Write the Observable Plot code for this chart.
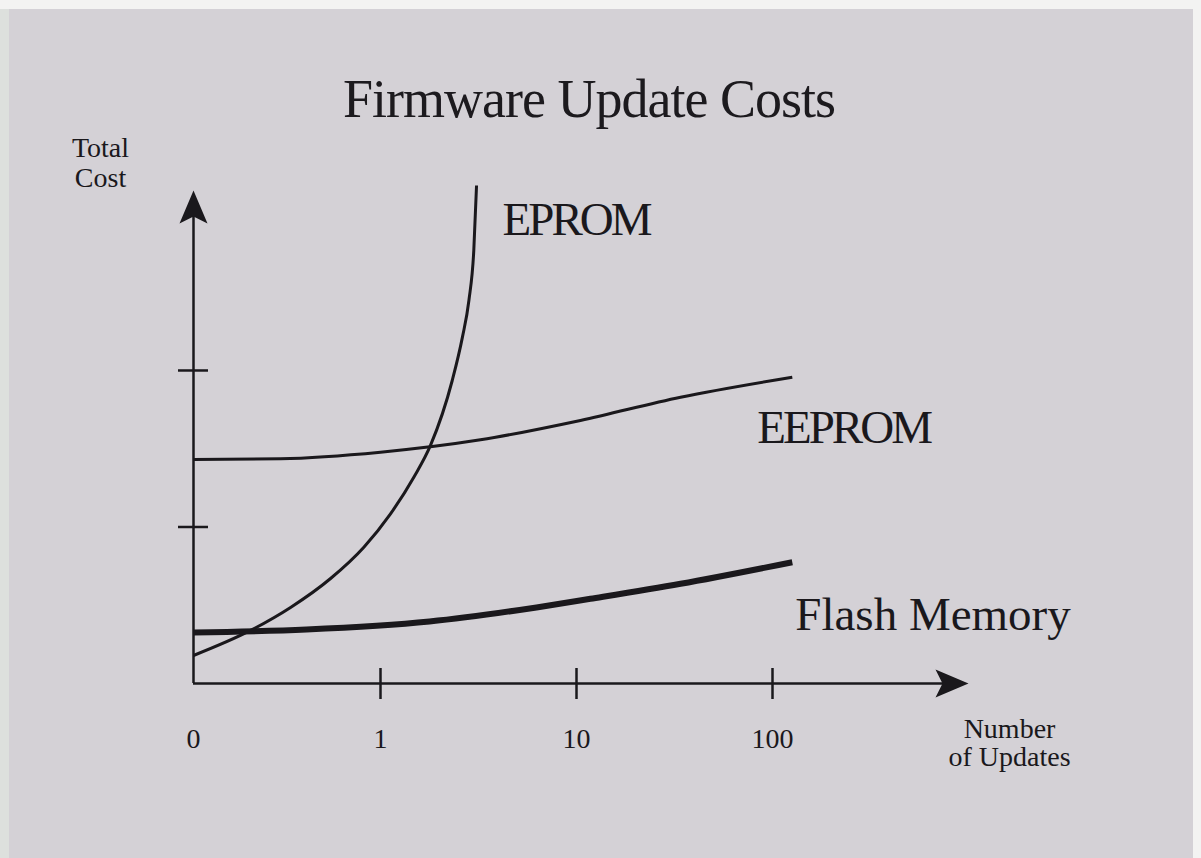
<!DOCTYPE html>
<html><head><meta charset="utf-8">
<script src="https://cdn.jsdelivr.net/npm/d3@7"></script>
<script src="https://cdn.jsdelivr.net/npm/@observablehq/plot@0.6"></script>
<style>
html,body{margin:0;padding:0;background:#f3f3f2;width:1201px;height:858px;overflow:hidden}
#strip{position:absolute;left:0;top:9px;width:9px;height:849px;background:#dde0dd}
#panel{position:absolute;left:9px;top:9px;width:1184px;height:849px;background:#d4d1d6}
#title{position:absolute;left:0;top:63px;width:1160px;text-align:center;font-family:"Liberation Serif","DejaVu Serif",serif;font-size:54px;line-height:1;letter-spacing:-1px;color:#1c1a1e;z-index:2}
#chart{position:absolute;left:0;top:0}
</style></head><body>
<div id="strip"></div>
<div id="panel"><div id="title">Firmware Update Costs</div><div id="chart"></div></div>
<script>
// ---- data (x in decade units of "Number of Updates": 0→0, 1→1, 10→2, 100→3) ----
const seriesNames = ["EPROM", "EEPROM", "Flash Memory"];
const epromX = [0, 0.305, 0.519, 0.733, 0.911, 1.051, 1.170, 1.255, 1.366, 1.418, 1.451, 1.476, 1.490];
const epromY = [0.179, 0.339, 0.486, 0.671, 0.871, 1.084, 1.318, 1.521, 1.936, 2.213, 2.447, 2.767, 3.182];
const eepromX = [0, 0.465, 1.0, 1.510, 2.020, 2.531, 3.101];
const eepromY = [1.431, 1.436, 1.478, 1.557, 1.681, 1.829, 1.957];
const flashX = [0, 0.604, 1.25, 1.796, 2.071, 2.531, 3.101];
const flashY = [0.326, 0.345, 0.396, 0.486, 0.541, 0.637, 0.775];
const xTickVals = [0, 1, 2, 3];
const xTickLabels = ["0", "1", "10", "100"];
const yTickVals = [1, 2];
const xMax = 4;      // x-axis arrow tip
const yMax = 3.15;   // y-axis arrow tip
const yAxisLabel = "Total\nCost";
const xAxisLabel = "Number\nof Updates";

// ---- build tables ----
const seriesX = [epromX, eepromX, flashX];
const seriesY = [epromY, eepromY, flashY];
const points = seriesNames.flatMap((name, s) =>
  seriesX[s].map((x, i) => ({series: name, x, y: seriesY[s][i]})));

// ---- styles ----
const ink = "#1a181c";
const font = "'Liberation Serif','DejaVu Serif',serif";
const lineStyle = {
  "EPROM": {strokeWidth: 3, dx: 26, dy: 50, spacing: "-3px"},
  "EEPROM": {strokeWidth: 3.1, dx: -35, dy: 66, spacing: "-3px"},
  "Flash Memory": {strokeWidth: 6, dx: 3, dy: 68, spacing: "0px"}
};

const arrowHead = {
  draw(ctx) {
    ctx.moveTo(0, 0);
    ctx.lineTo(14, 33);
    ctx.lineTo(0, 26);
    ctx.lineTo(-14, 33);
    ctx.closePath();
  }
};

const marks = [
  // axes
  Plot.ruleY([0], {stroke: ink, strokeWidth: 2.5, insetRight: 12}),
  Plot.ruleX([0], {stroke: ink, strokeWidth: 2.5, insetTop: 12}),
  Plot.dot([{x: 0, y: yMax}], {x: "x", y: "y", symbol: arrowHead, fill: ink, stroke: "none", r: 1}),
  Plot.dot([{x: xMax, y: 0}], {x: "x", y: "y", symbol: arrowHead, fill: ink, stroke: "none", r: 1, rotate: 90}),
  // ticks crossing the axes
  Plot.ruleX(xTickVals.filter(d => d > 0), {x: d => d, y1: d => 0, y2: d => 0, insetTop: -15, insetBottom: -16, stroke: ink, strokeWidth: 2.5}),
  Plot.ruleY(yTickVals, {y: d => d, x1: d => 0, x2: d => 0, insetLeft: -15, insetRight: -15, stroke: ink, strokeWidth: 2.5}),
  // tick labels
  Plot.text(xTickVals, {x: d => d, y: d => 0, text: (d, i) => xTickLabels[i], dy: 64, lineAnchor: "bottom", fontSize: 28, fontFamily: font, fill: ink}),
  // axis labels
  Plot.text([yAxisLabel], {x: d => 0, y: d => yMax, text: d => d, dx: -93, dy: -4, lineAnchor: "bottom", lineHeight: 1.07, fontSize: 28, fontFamily: font, fill: ink}),
  Plot.text([xAxisLabel], {x: d => xMax, y: d => 0, text: d => d, dx: 41, dy: 34, lineAnchor: "top", lineHeight: 1.02, fontSize: 28, fontFamily: font, fill: ink}),
];

for (const name of seriesNames) {
  const data = points.filter(p => p.series === name);
  const st = lineStyle[name];
  marks.push(Plot.line(data, {x: "x", y: "y", curve: "monotone-x", stroke: ink, strokeWidth: st.strokeWidth, strokeLinecap: "butt"}));
  marks.push(Plot.text(data, Plot.selectLast({x: "x", y: "y", text: "series", textAnchor: "start", lineAnchor: "bottom", dx: st.dx, dy: st.dy, fontSize: 47, fontFamily: font, fill: ink})));
}

const chart = Plot.plot({
  width: 1184,
  height: 849,
  marginLeft: 184,
  marginRight: 225,
  marginTop: 181,
  marginBottom: 175,
  // "0" sits closer to "1" than the decades sit to each other
  x: {type: "linear", domain: [0, 1, xMax], range: [184, 371, 959], axis: null},
  y: {type: "linear", domain: [0, yMax], axis: null},
  style: {background: "transparent", color: ink, overflow: "visible"},
  marks
});

// condense the capital-letter series labels a little (the original face is narrow)
d3.select(chart).selectAll("text").each(function() {
  const t = this.textContent;
  if (lineStyle[t]) this.setAttribute("letter-spacing", lineStyle[t].spacing);
});

document.getElementById("chart").appendChild(chart);
</script>
</body></html>
